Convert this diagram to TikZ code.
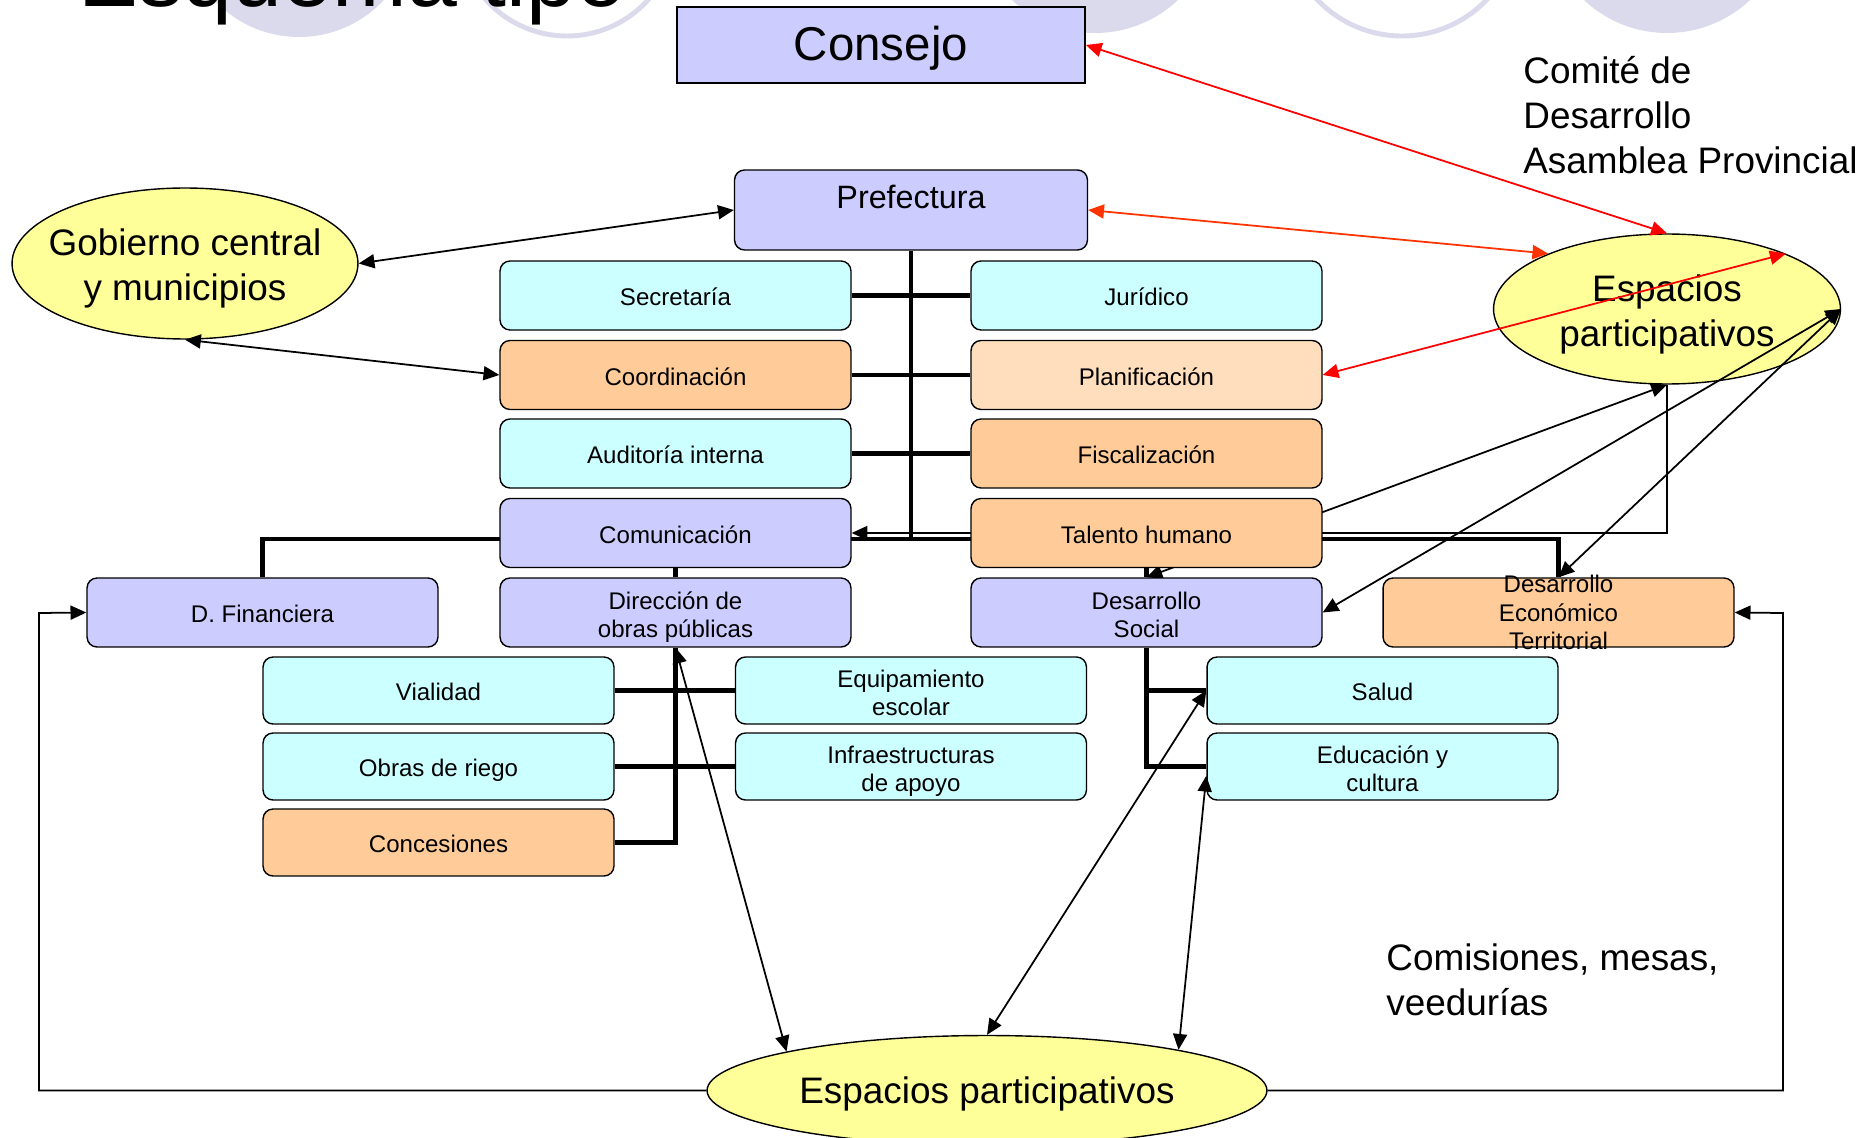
\documentclass[tikz,border=0pt]{standalone}
\usepackage{fontspec}
\setmainfont{Liberation Sans}
\usepackage{tikz}
\usetikzlibrary{arrows.meta}
\usetikzlibrary{shapes.geometric}
\usetikzlibrary{backgrounds}
\definecolor{lila}{RGB}{204,204,255}
\definecolor{celeste}{RGB}{204,255,255}
\definecolor{naranja}{RGB}{255,204,153}
\definecolor{durazno}{RGB}{255,222,189}
\definecolor{amarillo}{RGB}{255,255,153}
\definecolor{fondo}{RGB}{218,218,236}
\definecolor{rojizo}{RGB}{255,51,0}
\newcommand\cajafont{\fontsize{13.7}{16.3}\selectfont}
\newcommand\grandefont{\fontsize{21}{25.6}\selectfont}
\tikzstyle{dep}=[draw,line width=.8pt,rounded corners=.2cm,minimum width=7.02cm,minimum height=1.38cm,inner sep=2pt,align=center,font=\cajafont,text height=13pt,text depth=1.6pt]
\tikzstyle{doble}=[text height=31.2pt,text depth=2.4pt]
\tikzstyle{deplila}=[dep,fill=lila]
\tikzstyle{depceleste}=[dep,fill=celeste]
\tikzstyle{depnaranja}=[dep,fill=naranja]
\tikzstyle{subdep}=[minimum height=1.34cm]
\tikzstyle{espacio}=[ellipse,draw,line width=.8pt,fill=amarillo,inner xsep=-.4cm,inner ysep=0pt,align=center,font=\grandefont,text height=47pt,text depth=4.4pt]
\tikzstyle{texto}=[inner sep=0pt,align=left,font=\grandefont]
\tikzstyle{enlacehead}=[>/.tip={Triangle[length=9pt,width=8pt]}]
\tikzstyle{enlace}=[line width=1pt,enlacehead,<->]
\tikzstyle{enlaces}=[line width=1pt,enlacehead,->]
\tikzstyle{tronco}=[line width=2.8pt]
\begin{document}
\begin{tikzpicture}[x=0.02cm,y=-0.02cm]
	\useasboundingbox (0,0) rectangle (1866,1138);
	% top decoration
	\begin{scope}[on background layer]
		\fill[fondo] (299,-79) circle[radius=116];
		\draw[fondo,line width=2.8pt] (567,-73) circle[radius=109];
		\fill[fondo] (1095,-88) circle[radius=121];
		\draw[fondo,line width=2.8pt] (1402,-81) circle[radius=117];
		\fill[fondo] (1667,-88) circle[radius=121];
	\end{scope}
	\node[anchor=base west,inner sep=0pt,font=\fontsize{51}{60}\selectfont] (titulo) at (78,7) {Esquema tipo};

	\node[draw,line width=1pt,fill=lila,minimum width=8.16cm,minimum height=1.52cm,font=\fontsize{27}{32}\selectfont,text height=23.7pt,text depth=5.7pt] (cons) at (881,45) {Consejo};
	\node[deplila,minimum width=7.06cm,minimum height=1.6cm,text height=.5cm,text depth=.54cm,font=\fontsize{18.4}{22}\selectfont] (pref) at (911,210) {Prefectura};

	% left and right columns
	\node[depceleste] (sec)   at (675.5,295.5) {Secretaría};
	\node[depnaranja] (coord) at (675.5,375)   {Coordinación};
	\node[depceleste] (aud)   at (675.5,453.5) {Auditoría interna};
	\node[deplila]    (com)   at (675.5,533)   {Comunicación};
	\node[deplila,doble] (dop) at (675.5,612.5) {Dirección de\\obras públicas};
	\node[depceleste] (jur)   at (1146.5,295.5) {Jurídico};
	\node[dep,fill=durazno] (plan) at (1146.5,375) {Planificación};
	\node[depnaranja] (fisc)  at (1146.5,453.5) {Fiscalización};
	\node[depnaranja] (tal)   at (1146.5,533)   {Talento humano};
	\node[deplila,doble] (ds) at (1146.5,612.5) {Desarrollo\\Social};
	\node[deplila]    (dfin)  at (262.5,612.5)  {D. Financiera};
	\node[depnaranja,label={[font=\cajafont,align=center]center:Desarrollo\\Económico\\Territorial}] (det) at (1558.5,612.5) {};

	% lower departments
	\node[depceleste,subdep] (via)   at (438.5,690.5) {Vialidad};
	\node[depceleste,subdep] (riego) at (438.5,766.5) {Obras de riego};
	\node[depnaranja,subdep] (conc)  at (438.5,842.5) {Concesiones};
	\node[depceleste,subdep,doble] (equi)  at (911,690.5) {Equipamiento\\escolar};
	\node[depceleste,subdep,doble] (infra) at (911,766.5) {Infraestructuras\\de apoyo};
	\node[depceleste,subdep] (salud) at (1382.5,690.5) {Salud};
	\node[depceleste,subdep,doble] (edu) at (1382.5,766.5) {Educación y\\cultura};

	% participation
	\node[espacio,minimum width=6.92cm,minimum height=3.02cm] (gob) at (185,263.5) {Gobierno central\\y municipios};
	\node[espacio,minimum width=6.94cm,minimum height=3cm] (espR) at (1667,309) {Espacios\\participativos};
	\node[espacio,minimum width=11.2cm,minimum height=2.2cm,text height=19.3pt] (espB) at (987,1090.5) {Espacios participativos};
	\node[texto,anchor=west] (comite) at (1523,115) {Comité de\\Desarrollo\\Asamblea Provincial};
	\node[texto,anchor=west] (comis) at (1386,980) {Comisiones, mesas,\\veedurías};

	\coordinate (eje) at (911,539);
	\coordinate (izq) at (39,613);
	\coordinate (der) at (1783,613);

	\begin{scope}[on background layer]
		\draw[tronco] (pref.south) -- (eje);
		\draw[tronco] (dfin.north) |- (eje) -| (det.north);
		\draw[tronco] (sec.east) -- (jur.west);
		\draw[tronco] (coord.east) -- (plan.west);
		\draw[tronco] (aud.east) -- (fisc.west);
		\draw[tronco] (com.south) -- (dop.north);
		\draw[tronco] (tal.south) -- (ds.north);
		\draw[tronco] (dop.south) |- (conc.east);
		\draw[tronco] (via.east) -- (equi.west);
		\draw[tronco] (riego.east) -- (infra.west);
		\draw[tronco] (ds.south) |- (edu.west);
		\draw[tronco] (ds.south |- salud.west) -- (salud.west);
		\draw[enlaces] (espR.south) |- (com.east);
		\draw[enlace] (ds.north) -- (espR.south);
	\end{scope}

	\draw[enlace] (gob.east) -- (pref.west);
	\draw[enlace] (gob.south) -- (coord.west);
	\draw[enlace,red] (cons.east) -- (espR.north);
	\draw[enlace,rojizo] (pref.east) -- (espR.155);
	\draw[enlace,red] (plan.east) -- (espR.25);
	\draw[enlace] (espR.east) -- (ds.east);
	\draw[enlace] (espR.east) -- (det.north);
	\draw[enlaces] (espB.west) -| (izq) -- (dfin.west);
	\draw[enlaces] (espB.east) -| (der) -- (det.east);
	\draw[enlace] (espB.169) -- (dop.south);
	\draw[enlace] (espB.north) -- (salud.west);
	\draw[enlace] (espB.12) -- (edu.183);
\end{tikzpicture}
\end{document}
